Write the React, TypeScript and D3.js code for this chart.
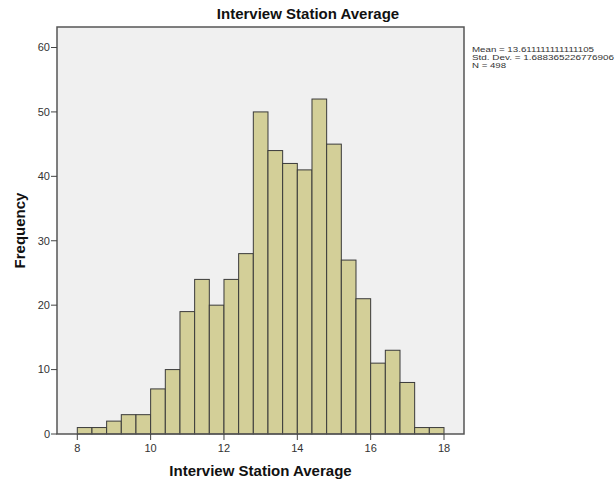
import React from "react";
import * as d3 from "d3";

const binStart = 8;
const binWidth = 0.4;
const counts = [1, 1, 2, 3, 3, 7, 10, 19, 24, 20, 24, 28, 50, 44, 42, 41, 52, 45, 27, 21, 11, 13, 8, 1, 1];
const xTicks = [8, 10, 12, 14, 16, 18];
const yTicks = [0, 10, 20, 30, 40, 50, 60];
const title = "Interview Station Average";
const xTitle = "Interview Station Average";
const yTitle = "Frequency";
const statsLines = ["Mean = 13.611111111111105", "Std. Dev. = 1.688365226776906", "N = 498"];
const statsWidths = [122, 142, 34];

export default function App() {
  const W = 616, H = 485;
  const frame = { left: 57, top: 27, right: 464, bottom: 434 };
  const x = d3.scaleLinear().domain([8, 18]).range([77.3, 444]);
  const y = d3.scaleLinear().domain([0, 60]).range([434, 47.5]);
  const bins = counts.map((c, i) => ({ x0: binStart + i * binWidth, x1: binStart + (i + 1) * binWidth, c }));
  const font = "'Liberation Sans', Arial, sans-serif";
  return (
    <svg width={W} height={H} style={{ position: "absolute", left: 0, top: 0 }}>
      <rect x={0} y={0} width={W} height={H} fill="#ffffff" />
      <rect x={frame.left} y={frame.top} width={frame.right - frame.left} height={frame.bottom - frame.top} fill="#F0F0F0" />
      {bins.map((b, i) => (
        <rect key={i} x={x(b.x0)} y={y(b.c)} width={x(b.x1) - x(b.x0)} height={y(0) - y(b.c)}
          fill="#D3CF98" stroke="#3a3a3a" strokeWidth={1} />
      ))}
      <rect x={frame.left} y={frame.top} width={frame.right - frame.left} height={frame.bottom - frame.top}
        fill="none" stroke="#555" strokeWidth={1.5} />
      {yTicks.map((t) => (
        <g key={t}>
          <line x1={frame.left - 6} x2={frame.left} y1={y(t)} y2={y(t)} stroke="#444" strokeWidth={1} />
          <text x={frame.left - 7} y={y(t)} dy="0.35em" textAnchor="end" fontFamily={font} fontSize={11} fill="#333">{t}</text>
        </g>
      ))}
      {xTicks.map((t) => (
        <g key={t}>
          <line x1={x(t)} x2={x(t)} y1={frame.bottom} y2={frame.bottom + 6} stroke="#444" strokeWidth={1} />
          <text x={x(t)} y={452} textAnchor="middle" fontFamily={font} fontSize={11} fill="#333">{t}</text>
        </g>
      ))}
      <text x={308} y={19} textAnchor="middle" fontFamily={font} fontWeight="bold" fontSize={15} fill="#111">{title}</text>
      <text x={(frame.left + frame.right) / 2} y={476} textAnchor="middle" fontFamily={font} fontWeight="bold" fontSize={15} fill="#111">{xTitle}</text>
      <text transform={`translate(25,${(frame.top + frame.bottom) / 2}) rotate(-90)`} textAnchor="middle" fontFamily={font} fontWeight="bold" fontSize={15} fill="#111">{yTitle}</text>
      {statsLines.map((s, i) => (
        <text key={i} x={472} y={52 + i * 8} fontFamily={font} fontSize={7.5} fill="#333"
          textLength={statsWidths[i]} lengthAdjust="spacingAndGlyphs">{s}</text>
      ))}
    </svg>
  );
}
